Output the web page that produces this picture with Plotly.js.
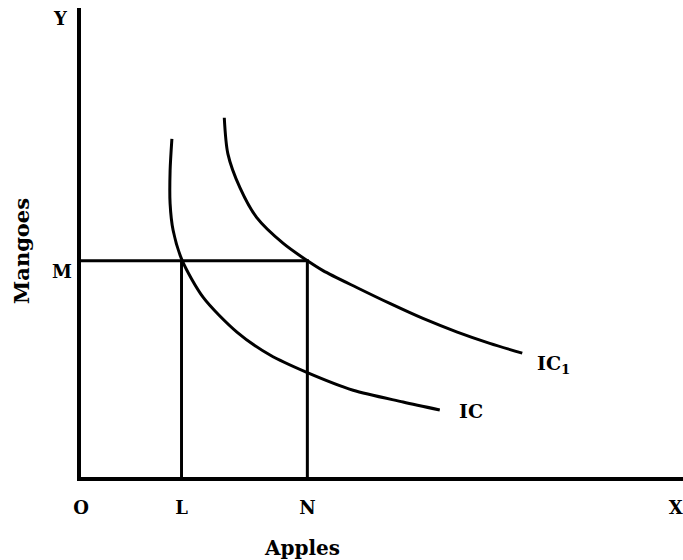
<!DOCTYPE html>
<html>
<head>
<meta charset="utf-8">
<script src="https://cdn.plot.ly/plotly-3.0.1.min.js"></script>
<style>
  html, body { margin: 0; padding: 0; background: #fff; }
  #chart { width: 683px; height: 560px; }
</style>
</head>
<body>
<div id="chart"></div>
<script>
// --- data (axes run 0..10 on both sides) ---
const L = 1.67;   // apples at point on IC
const N = 3.76;   // apples at point on IC1
const M = 4.61;   // mangoes, same for both points

const icX  = [1.51, 1.48, 1.48, 1.53, 1.68, 2.03, 2.59, 3.14, 3.75, 4.52, 5.35, 5.96];
const icY  = [7.21, 6.53, 5.83, 5.26, 4.62, 3.83, 3.09, 2.60, 2.23, 1.85, 1.60, 1.43];

const ic1X = [2.38, 2.44, 2.64, 2.92, 3.36, 3.75, 4.02, 4.58, 5.13, 5.68, 6.25, 6.79, 7.33];
const ic1Y = [7.66, 6.89, 6.17, 5.53, 4.98, 4.62, 4.40, 4.04, 3.70, 3.38, 3.09, 2.85, 2.64];

const xTickVals = [0, L, N, 9.88];
const xTickText = ['O', 'L', 'N', 'X'];

const FONT = 'DejaVu Serif, Liberation Serif, serif';

// --- traces ---
const traces = [
    {   // guide lines from M to IC1 and down to L, N
        x: [0, N, N, null, L, L],
        y: [M, M, 0, null, M, 0],
        mode: 'lines',
        line: { color: '#000', width: 3 },
        hoverinfo: 'skip'
    },
    {
        x: icX, y: icY, name: 'IC',
        mode: 'lines',
        line: { color: '#000', width: 3, shape: 'spline', smoothing: 0.8 },
        hoverinfo: 'skip'
    },
    {
        x: ic1X, y: ic1Y, name: 'IC1',
        mode: 'lines',
        line: { color: '#000', width: 3, shape: 'spline', smoothing: 0.8 },
        hoverinfo: 'skip'
    }
];

const labelFont = { family: FONT, size: 18, color: '#000', weight: 'bold' };
const bigFont = { family: FONT, size: 20, color: '#000', weight: 'bold' };

const layout = {
    width: 683,
    height: 560,
    margin: { l: 81, r: 0, t: 8, b: 83 },
    paper_bgcolor: '#fff',
    plot_bgcolor: '#fff',
    showlegend: false,
    xaxis: {
        range: [0, 10],
        showgrid: false,
        zeroline: false,
        showline: true,
        linecolor: '#000',
        linewidth: 4,
        ticks: '',
        tickvals: xTickVals,
        ticktext: xTickText,
        tickfont: labelFont,
        ticklabelstandoff: 11,
        fixedrange: true
    },
    yaxis: {
        range: [0, 10],
        showgrid: false,
        zeroline: false,
        showline: true,
        linecolor: '#000',
        linewidth: 4,
        ticks: '',
        showticklabels: false,
        fixedrange: true
    },
    annotations: [
        { text: 'M', xref: 'x', yref: 'y', x: 0, y: M, xshift: -19, yshift: -11,
          xanchor: 'center', yanchor: 'middle', showarrow: false, font: labelFont },
        { text: 'Y', xref: 'x', yref: 'paper', x: 0, y: 1, xshift: -21, yshift: -10,
          xanchor: 'center', yanchor: 'middle', showarrow: false, font: labelFont },
        { text: 'IC', xref: 'x', yref: 'y', x: 6.25, y: 1.41, xanchor: 'left', yanchor: 'middle',
          showarrow: false, font: { family: FONT, size: 19, color: '#000', weight: 'bold' } },
        { text: 'IC<sub>1</sub>', xref: 'x', yref: 'y', x: 7.54, y: 2.40, xanchor: 'left', yanchor: 'middle',
          showarrow: false, font: { family: FONT, size: 19, color: '#000', weight: 'bold' } },
        { text: 'Apples', xref: 'x', yref: 'paper', x: 3.67, y: 0, yshift: -71,
          xanchor: 'center', yanchor: 'middle', showarrow: false, font: bigFont },
        { text: 'Mangoes', xref: 'paper', yref: 'y', x: 0, y: 4.82, xshift: -59, textangle: -90,
          xanchor: 'center', yanchor: 'middle', showarrow: false,
          font: { family: FONT, size: 21, color: '#000', weight: 'bold' } }
    ]
};

Plotly.newPlot('chart', traces, layout, { displayModeBar: false, staticPlot: true });
</script>
</body>
</html>
